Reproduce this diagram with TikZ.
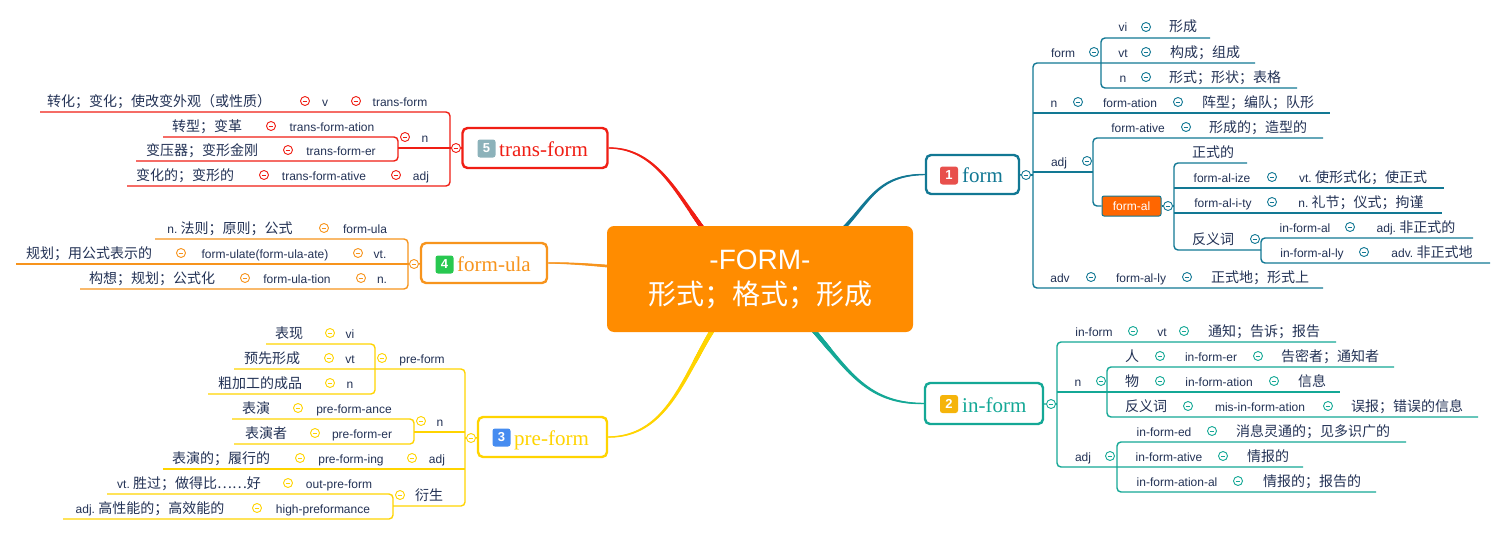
\documentclass[tikz,border=0pt]{standalone}
\usepackage{fontspec}
\setmainfont{Liberation Sans}
\newfontfamily\zhfont{Noto Sans CJK SC}
\newfontfamily\headfont{Liberation Serif}
\usetikzlibrary{positioning,decorations.markings}
\pgfdeclarelayer{background}
\pgfsetlayers{background,main}

\definecolor{ink}{RGB}{35,50,85}
\definecolor{cform}{RGB}{18,120,148}
\definecolor{cinform}{RGB}{20,168,150}
\definecolor{cpreform}{RGB}{255,212,0}
\definecolor{cformula}{RGB}{247,148,29}
\definecolor{ctrans}{RGB}{240,30,20}
\definecolor{croot}{RGB}{255,140,0}
\definecolor{cformal}{RGB}{255,102,0}
\definecolor{bone}{RGB}{232,80,76}
\definecolor{btwo}{RGB}{245,180,10}
\definecolor{bthree}{RGB}{70,140,240}
\definecolor{bfour}{RGB}{40,200,80}
\definecolor{bfive}{RGB}{140,178,186}

\newcommand{\zhtext}[1]{{\zhfont\fontsize{14}{16}\selectfont #1}}
% two ends of an underline
\newcommand{\rowat}[4]{\coordinate (#1-a) at (#2,#4); \coordinate (#1-b) at (#3,#4);}

\begin{document}
\begin{tikzpicture}[
    x=1pt, y=-1pt,
    en/.style={anchor=base, text=ink, inner sep=0pt, font=\fontsize{12}{14}\selectfont},
    zh/.style={anchor=base, text=ink, inner sep=0pt, font=\zhfont\fontsize{14}{16}\selectfont},
    fold/.style={circle, draw=#1, fill=white, line width=0.9pt, minimum size=9pt, inner sep=0pt,
        path picture={\draw[#1, line width=0.9pt] ([xshift=-2.3pt]path picture bounding box.center) -- ([xshift=2.3pt]path picture bounding box.center);}},
    link/.style={draw=#1, line width=1.4pt, rounded corners=4pt},
    branch/.style={draw=#1, line width=2.4pt, rounded corners=5pt, fill=white, inner sep=0pt},
    badge/.style={fill=#1, rounded corners=2.5pt, minimum size=18pt, inner sep=0pt, text=white, font=\bfseries\fontsize{13}{13}\selectfont},
    branchtext/.style={anchor=base west, text=#1, inner sep=0pt, font=\headfont\fontsize{21}{21}\selectfont},
    % tapered line: thick at the root, thin at the branch
    curve/.style={postaction={decorate}, decoration={markings,
        mark=between positions 0 and 1 step 0.5pt with {%
          \pgfmathsetmacro\taprad{3.1-2.4*\pgfkeysvalueof{/pgf/decoration/mark info/distance from start}/\pgfdecoratedpathlength}%
          \fill[#1] (0,0) circle[radius=\taprad pt];}}}
]
\useasboundingbox (0,0) rectangle (1506,535);

% central topic
\node[fill=croot, rounded corners=7pt, minimum width=306pt, minimum height=106pt, inner sep=0pt,
      text=white, align=center, font=\fontsize{28}{35}\selectfont] (root) at (760,279)
      {-FORM-\\{\zhfont 形式；格式；形成}};

% main branches
\node[branch=cform, minimum width=93pt, minimum height=39pt] (form) at (972.5,174.5) {};
\node[badge=bone] (form-no) at (949,175.5) {1};
\node[branchtext=cform] (form-txt) at (962,182.5) {form};

\node[branch=cinform, minimum width=118pt, minimum height=41pt] (inform) at (984,403.5) {};
\node[badge=btwo] (inform-no) at (949,404) {2};
\node[branchtext=cinform] (inform-txt) at (962,412) {in-form};

\node[branch=cpreform, minimum width=129pt, minimum height=40pt] (preform) at (542.5,437) {};
\node[badge=bthree] (preform-no) at (501.5,437.5) {3};
\node[branchtext=cpreform] (preform-txt) at (514,445) {pre-form};

\node[branch=cformula, minimum width=126pt, minimum height=40pt] (formula) at (484,263) {};
\node[badge=bfour] (formula-no) at (444.5,264.5) {4};
\node[branchtext=cformula] (formula-txt) at (457,271) {form-ula};

\node[branch=ctrans, minimum width=145pt, minimum height=40pt] (trans) at (535,148) {};
\node[badge=bfive] (trans-no) at (486.5,148.5) {5};
\node[branchtext=ctrans] (trans-txt) at (499,156) {trans-form};

\begin{pgfonlayer}{background}
\fill[white] (0,0) rectangle (1506,535);
\path[curve=cform] (root.center) .. controls (875,240) and (850,175) .. (form.west);
\path[curve=cinform] (root.center) .. controls (840,340) and (845,404) .. (inform.west);
\path[curve=cpreform] (root.center) .. controls (690,320) and (690,437) .. (preform.east);
\path[curve=cformula] (root.center) .. controls (650,272) and (600,263) .. (formula.east);
\path[curve=ctrans] (root.center) .. controls (690,250) and (680,148) .. (trans.east);
\end{pgfonlayer}

%% form
\rowat{g1}{1033}{1255}{63}
\rowat{vi}{1101}{1210}{38}
\rowat{fn}{1101}{1297}{88}
\rowat{fation}{1033}{1330}{113}
\rowat{fative}{1093}{1323}{138}
\rowat{fadj}{1033}{1093}{172}
\rowat{zsd}{1174}{1247}{163}
\rowat{fize}{1174}{1444}{188}
\rowat{fity}{1174}{1442}{213}
\rowat{fyc}{1174}{1261}{250}
\rowat{ifal}{1261}{1473}{238}
\rowat{ifally}{1261}{1490}{263}
\rowat{fadv}{1033}{1323}{288}

\node[fold=cform] (form-f) at (1026,175) {};
\node[fill=cformal, draw=cform, line width=1pt, rounded corners=2pt, minimum width=59pt, minimum height=20pt,
      inner sep=0pt, text=white, font=\fontsize{12}{14}\selectfont] (formal) at (1131.5,206) {form-al};
\node[fold=cform] (formal-f) at (1168,206) {};

\draw[link=cform] (form) -- (form-f);
\draw[link=cform] (form-f) -- (form-f -| g1-a);
\draw[link=cform] (g1-b) -- (g1-a) -- (fadv-a) -- (fadv-b);
\draw[link=cform] (vi-b) -- (vi-a) -- (fn-a) -- (fn-b);
\draw[link=cform] (fation-a) -- (fation-b);
\draw[link=cform] (fadj-a) -- (fadj-b);
\draw[link=cform] (fative-b) -- (fative-a) |- (formal);
\draw[link=cform] (formal) -- (formal-f);
\draw[link=cform] (formal-f) -- (formal-f -| zsd-a);
\draw[link=cform] (zsd-b) -- (zsd-a) -- (fyc-a) -- (fyc-b);
\draw[link=cform] (fize-a) -- (fize-b);
\draw[link=cform] (fity-a) -- (fity-b);
\draw[link=cform] (ifal-b) -- (ifal-a) -- (ifally-a) -- (ifally-b);

\node[en] (vi1) at (1123,32) {vi};
\node[fold=cform] (vi2) at (1146,27) {};
\node[zh] (vi3) at (1183,32) {形成};
\node[en] (g11) at (1063,57) {form};
\node[fold=cform] (g12) at (1094,52) {};
\node[en] (g13) at (1123,57) {vt};
\node[fold=cform] (g14) at (1146,52) {};
\node[zh] (g15) at (1205,57) {构成；组成};
\node[en] (fn1) at (1123,82) {n};
\node[fold=cform] (fn2) at (1146,77) {};
\node[zh] (fn3) at (1225,82) {形式；形状；表格};
\node[en] (fation1) at (1054,107) {n};
\node[fold=cform] (fation2) at (1078,102) {};
\node[en] (fation3) at (1130,107) {form-ation};
\node[fold=cform] (fation4) at (1178,102) {};
\node[zh] (fation5) at (1258,107) {阵型；编队；队形};
\node[en] (fative1) at (1138,132) {form-ative};
\node[fold=cform] (fative2) at (1186,127) {};
\node[zh] (fative3) at (1258,132) {形成的；造型的};
\node[en] (fadj1) at (1059,166) {adj};
\node[fold=cform] (fadj2) at (1087,161) {};
\node[zh] (zsd1) at (1213,157) {正式的};
\node[en] (fize1) at (1222,182) {form-al-ize};
\node[fold=cform] (fize2) at (1272,177) {};
\node[en] (fize3) at (1363,182) {vt.\ \zhtext{使形式化；使正式}};
\node[en] (fity1) at (1223,207) {form-al-i-ty};
\node[fold=cform] (fity2) at (1272,202) {};
\node[en] (fity3) at (1361,207) {n.\ \zhtext{礼节；仪式；拘谨}};
\node[zh] (fyc1) at (1213,244) {反义词};
\node[fold=cform] (fyc2) at (1255,239) {};
\node[en] (ifal1) at (1305,232) {in-form-al};
\node[fold=cform] (ifal2) at (1350,227) {};
\node[en] (ifal3) at (1416,232) {adj.\ \zhtext{非正式的}};
\node[en] (ifally1) at (1312,257) {in-form-al-ly};
\node[fold=cform] (ifally2) at (1364,252) {};
\node[en] (ifally3) at (1432,257) {adv.\ \zhtext{非正式地}};
\node[en] (fadv1) at (1060,282) {adv};
\node[fold=cform] (fadv2) at (1091,277) {};
\node[en] (fadv3) at (1141,282) {form-al-ly};
\node[fold=cform] (fadv4) at (1187,277) {};
\node[zh] (fadv5) at (1260,282) {正式地；形式上};

%% in-form
\rowat{ivt}{1057}{1336}{342}
\rowat{ren}{1107}{1394}{367}
\rowat{wu}{1057}{1340}{392}
\rowat{ifyc}{1107}{1478}{417}
\rowat{ied}{1117}{1406}{442}
\rowat{iative}{1057}{1303}{467}
\rowat{ial}{1117}{1376}{492}

\node[fold=cinform] (inform-f) at (1051,404) {};
\draw[link=cinform] (inform) -- (inform-f);
\draw[link=cinform] (inform-f) -- (inform-f -| ivt-a);
\draw[link=cinform] (ivt-b) -- (ivt-a) -- (iative-a) -- (iative-b);
\draw[link=cinform] (wu-a) -- (wu-b);
\draw[link=cinform] (ren-b) -- (ren-a) -- (ifyc-a) -- (ifyc-b);
\draw[link=cinform] (ied-b) -- (ied-a) -- (ial-a) -- (ial-b);

\node[en] (ivt1) at (1094,336) {in-form};
\node[fold=cinform] (ivt2) at (1133,331) {};
\node[en] (ivt3) at (1162,336) {vt};
\node[fold=cinform] (ivt4) at (1184,331) {};
\node[zh] (ivt5) at (1264,336) {通知；告诉；报告};
\node[zh] (ren1) at (1132,361) {人};
\node[fold=cinform] (ren2) at (1160,356) {};
\node[en] (ren3) at (1211,361) {in-form-er};
\node[fold=cinform] (ren4) at (1258,356) {};
\node[zh] (ren5) at (1330,361) {告密者；通知者};
\node[en] (wu1) at (1078,386) {n};
\node[fold=cinform] (wu2) at (1101,381) {};
\node[zh] (wu3) at (1132,386) {物};
\node[fold=cinform] (wu4) at (1160,381) {};
\node[en] (wu5) at (1219,386) {in-form-ation};
\node[fold=cinform] (wu6) at (1274,381) {};
\node[zh] (wu7) at (1312,386) {信息};
\node[zh] (ifyc1) at (1146,411) {反义词};
\node[fold=cinform] (ifyc2) at (1188,406) {};
\node[en] (ifyc3) at (1260,411) {mis-in-form-ation};
\node[fold=cinform] (ifyc4) at (1328,406) {};
\node[zh] (ifyc5) at (1407,411) {误报；错误的信息};
\node[en] (ied1) at (1164,436) {in-form-ed};
\node[fold=cinform] (ied2) at (1212,431) {};
\node[zh] (ied3) at (1313,436) {消息灵通的；见多识广的};
\node[en] (iative1) at (1083,461) {adj};
\node[fold=cinform] (iative2) at (1110,456) {};
\node[en] (iative3) at (1169,461) {in-form-ative};
\node[fold=cinform] (iative4) at (1223,456) {};
\node[zh] (iative5) at (1268,461) {情报的};
\node[en] (ial1) at (1177,486) {in-form-ation-al};
\node[fold=cinform] (ial2) at (1238,481) {};
\node[zh] (ial3) at (1312,486) {情报的；报告的};

%% trans-form
\rowat{tv}{40}{450}{112}
\rowat{tzx}{163}{398}{137}
\rowat{tn}{398}{450}{148}
\rowat{tbyq}{136}{398}{161}
\rowat{tadj}{127}{450}{186}

\node[fold=ctrans] (trans-f) at (456,148) {};
\draw[link=ctrans] (trans) -- (trans-f);
\draw[link=ctrans] (trans-f) -- (trans-f -| tv-b);
\draw[link=ctrans] (tv-a) -- (tv-b) -- (tadj-b) -- (tadj-a);
\draw[link=ctrans] (tn-a) -- (tn-b);
\draw[link=ctrans] (tzx-a) -- (tzx-b) -- (tbyq-b) -- (tbyq-a);

\node[zh] (tv1) at (159,106) {转化；变化；使改变外观（或性质）};
\node[fold=ctrans] (tv2) at (305,101) {};
\node[en] (tv3) at (325,106) {v};
\node[fold=ctrans] (tv4) at (356,101) {};
\node[en] (tv5) at (400,106) {trans-form};
\node[zh] (tzx1) at (207,131) {转型；变革};
\node[fold=ctrans] (tzx2) at (271,126) {};
\node[en] (tzx3) at (332,131) {trans-form-ation};
\node[fold=ctrans] (tn1) at (405,137) {};
\node[en] (tn2) at (425,142) {n};
\node[zh] (tbyq1) at (202,155) {变压器；变形金刚};
\node[fold=ctrans] (tbyq2) at (288,150) {};
\node[en] (tbyq3) at (341,155) {trans-form-er};
\node[zh] (tadj1) at (185,180) {变化的；变形的};
\node[fold=ctrans] (tadj2) at (264,175) {};
\node[en] (tadj3) at (324,180) {trans-form-ative};
\node[fold=ctrans] (tadj4) at (396,175) {};
\node[en] (tadj5) at (421,180) {adj};

%% form-ula
\rowat{fu1}{155}{408}{239}
\rowat{fu2}{16}{408}{264}
\rowat{fu3}{80}{408}{289}

\node[fold=cformula] (formula-f) at (414,264) {};
\draw[link=cformula] (formula) -- (formula-f);
\draw[link=cformula] (formula-f) -- (formula-f -| fu1-b);
\draw[link=cformula] (fu1-a) -- (fu1-b) -- (fu3-b) -- (fu3-a);
\draw[link=cformula] (fu2-a) -- (fu2-b);

\node[en] (fu11) at (230,233) {n.\ \zhtext{法则；原则；公式}};
\node[fold=cformula] (fu12) at (324,228) {};
\node[en] (fu13) at (365,233) {form-ula};
\node[zh] (fu21) at (89,258) {规划；用公式表示的};
\node[fold=cformula] (fu22) at (181,253) {};
\node[en] (fu23) at (265,258) {form-ulate(form-ula-ate)};
\node[fold=cformula] (fu24) at (358,253) {};
\node[en] (fu25) at (380,258) {vt.};
\node[zh] (fu31) at (152,283) {构想；规划；公式化};
\node[fold=cformula] (fu32) at (245,278) {};
\node[en] (fu33) at (297,283) {form-ula-tion};
\node[fold=cformula] (fu34) at (361,278) {};
\node[en] (fu35) at (382,283) {n.};

%% pre-form
\rowat{bx}{266}{375}{344}
\rowat{yxxc}{234}{465}{369}
\rowat{cjg}{208}{375}{394}
\rowat{by}{232}{414}{419}
\rowat{pn}{414}{465}{432}
\rowat{byz}{234}{414}{444}
\rowat{byd}{163}{465}{469}
\rowat{sg}{107}{393}{494}
\rowat{ys}{393}{465}{506}
\rowat{gxn}{63}{393}{519}

\node[fold=cpreform] (preform-f) at (471,438) {};
\draw[link=cpreform] (preform) -- (preform-f);
\draw[link=cpreform] (preform-f) -- (preform-f -| ys-b);
\draw[link=cpreform] (yxxc-a) -- (yxxc-b) -- (ys-b) -- (ys-a);
\draw[link=cpreform] (bx-a) -- (bx-b) -- (cjg-b) -- (cjg-a);
\draw[link=cpreform] (by-a) -- (by-b) -- (byz-b) -- (byz-a);
\draw[link=cpreform] (pn-a) -- (pn-b);
\draw[link=cpreform] (byd-a) -- (byd-b);
\draw[link=cpreform] (sg-a) -- (sg-b) -- (gxn-b) -- (gxn-a);

\node[zh] (bx1) at (289,338) {表现};
\node[fold=cpreform] (bx2) at (330,333) {};
\node[en] (bx3) at (350,338) {vi};
\node[zh] (yxxc1) at (272,363) {预先形成};
\node[fold=cpreform] (yxxc2) at (329,358) {};
\node[en] (yxxc3) at (350,363) {vt};
\node[fold=cpreform] (yxxc4) at (382,358) {};
\node[en] (yxxc5) at (422,363) {pre-form};
\node[zh] (cjg1) at (260,388) {粗加工的成品};
\node[fold=cpreform] (cjg2) at (330,383) {};
\node[en] (cjg3) at (350,388) {n};
\node[zh] (by1) at (256,413) {表演};
\node[fold=cpreform] (by2) at (298,408) {};
\node[en] (by3) at (354,413) {pre-form-ance};
\node[fold=cpreform] (pn1) at (421,421) {};
\node[en] (pn2) at (440,426) {n};
\node[zh] (byz1) at (266,438) {表演者};
\node[fold=cpreform] (byz2) at (315,433) {};
\node[en] (byz3) at (362,438) {pre-form-er};
\node[zh] (byd1) at (221,463) {表演的；履行的};
\node[fold=cpreform] (byd2) at (300,458) {};
\node[en] (byd3) at (351,463) {pre-form-ing};
\node[fold=cpreform] (byd4) at (412,458) {};
\node[en] (byd5) at (437,463) {adj};
\node[en] (sg1) at (189,488) {vt.\ \zhtext{胜过；做得比……好}};
\node[fold=cpreform] (sg2) at (288,483) {};
\node[en] (sg3) at (339,488) {out-pre-form};
\node[fold=cpreform] (ys1) at (400,495) {};
\node[zh] (ys2) at (429,500) {衍生};
\node[en] (gxn1) at (150,513) {adj.\ \zhtext{高性能的；高效能的}};
\node[fold=cpreform] (gxn2) at (257,508) {};
\node[en] (gxn3) at (323,513) {high-preformance};
\end{tikzpicture}
\end{document}
